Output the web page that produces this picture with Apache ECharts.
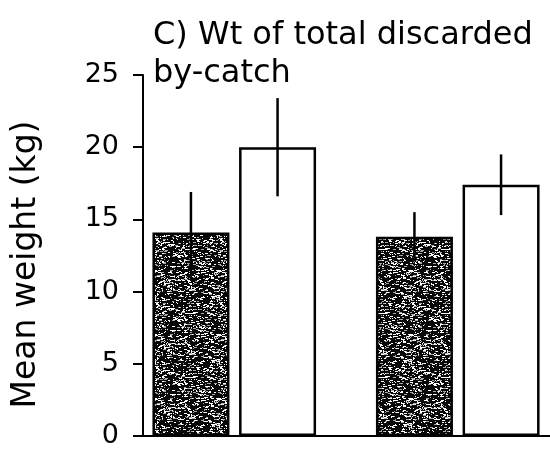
<!DOCTYPE html>
<html>
<head>
<meta charset="utf-8">
<script src="https://cdn.jsdelivr.net/npm/echarts@6/dist/echarts.min.js"></script>
<style>
  html, body { margin: 0; padding: 0; background: #fff; }
  #chart { width: 550px; height: 450px; }
</style>
</head>
<body>
<div id="chart"></div>
<script>
// Mean weight of total discarded by-catch (kg), two groups, two treatments
const groups = ['A', 'B'];
const darkMeans = [14.1, 13.8];
const darkErr = [2.8, 1.7];
const whiteMeans = [20.0, 17.4];
const whiteErr = [3.4, 2.1];
const yMin = 0, yMax = 25, yStep = 5;
const titleText = 'C) Wt of total discarded\nby-catch';
const yName = 'Mean weight (kg)';

const FONT = 'DejaVu Sans';
const BAR_W = 77;
const GAP_RATIO = 0.125;

// Speckled fill for the shaded bars: dark ground with short light flecks
function stipple() {
  const size = 64;
  const c = document.createElement('canvas');
  c.width = size; c.height = size;
  const g = c.getContext('2d');
  g.fillStyle = '#080808';
  g.fillRect(0, 0, size, size);
  let s = 24681;
  const next = () => (s = (s * 1103515245 + 12345) & 0x7fffffff) / 0x7fffffff;
  for (let i = 0; i < 800; i++) {
    const x = Math.floor(next() * size);
    const y = Math.floor(next() * size);
    const w = next() < 0.5 ? 1 : 2 + Math.floor(next() * 2);
    g.fillStyle = next() < 0.65 ? '#ffffff' : '#a8a8a8';
    g.fillRect(x, y, w, 1);
  }
  return c;
}

function errData(means, errs) {
  return means.map((m, i) => [i, m - errs[i], m + errs[i]]);
}

function errRenderer(side) {
  return function (params, api) {
    const i = api.value(0);
    const lo = api.coord([i, api.value(1)]);
    const hi = api.coord([i, api.value(2)]);
    const x = lo[0] + side * BAR_W * (1 + GAP_RATIO) / 2;
    return {
      type: 'line',
      shape: { x1: x, y1: lo[1], x2: x, y2: hi[1] },
      style: { stroke: '#000', lineWidth: 2.5 }
    };
  };
}

const lineStyle = { color: '#000', width: 2 };

const chart = echarts.init(document.getElementById('chart'), null, { renderer: 'canvas' });
chart.setOption({
  animation: false,
  backgroundColor: '#fff',
  title: {
    text: titleText,
    left: 148,
    top: 12,
    textStyle: { fontFamily: FONT, fontSize: 32, fontWeight: 'normal', color: '#000', lineHeight: 38 }
  },
  grid: [
    { left: 122.5, width: 447, top: 75, bottom: 14, outerBoundsMode: 'none' },
    { left: 143, right: 0, top: 75, bottom: 14, outerBoundsMode: 'none' }
  ],
  xAxis: [
    { type: 'category', gridIndex: 0, data: groups, show: false },
    {
      type: 'category', gridIndex: 1, data: groups,
      axisLine: { lineStyle },
      axisTick: { show: false },
      axisLabel: { show: false }
    }
  ],
  yAxis: [
    { type: 'value', gridIndex: 0, min: yMin, max: yMax, interval: yStep, show: false },
    {
      type: 'value', gridIndex: 1, min: yMin, max: yMax, interval: yStep,
      name: yName,
      nameLocation: 'middle',
      nameGap: 100,
      nameTextStyle: { fontFamily: FONT, fontSize: 33, color: '#000', padding: [0, 18, 0, 0] },
      axisLine: { show: true, lineStyle },
      axisTick: { show: true, length: 10, lineStyle },
      axisLabel: { fontFamily: FONT, fontSize: 27, color: '#000', margin: 24 },
      splitLine: { show: false }
    }
  ],
  series: [
    {
      type: 'bar', xAxisIndex: 0, yAxisIndex: 0,
      data: darkMeans,
      barWidth: BAR_W,
      barGap: (GAP_RATIO * 100) + '%',
      itemStyle: { color: { image: stipple(), repeat: 'repeat' }, borderColor: '#000', borderWidth: 2.5 }
    },
    {
      type: 'bar', xAxisIndex: 0, yAxisIndex: 0,
      data: whiteMeans,
      barWidth: BAR_W,
      barGap: (GAP_RATIO * 100) + '%',
      itemStyle: { color: '#fff', borderColor: '#000', borderWidth: 2.5 }
    },
    {
      type: 'custom', xAxisIndex: 0, yAxisIndex: 0, z: 5,
      renderItem: errRenderer(-1),
      data: errData(darkMeans, darkErr)
    },
    {
      type: 'custom', xAxisIndex: 0, yAxisIndex: 0, z: 5,
      renderItem: errRenderer(1),
      data: errData(whiteMeans, whiteErr)
    }
  ]
});
</script>
</body>
</html>
